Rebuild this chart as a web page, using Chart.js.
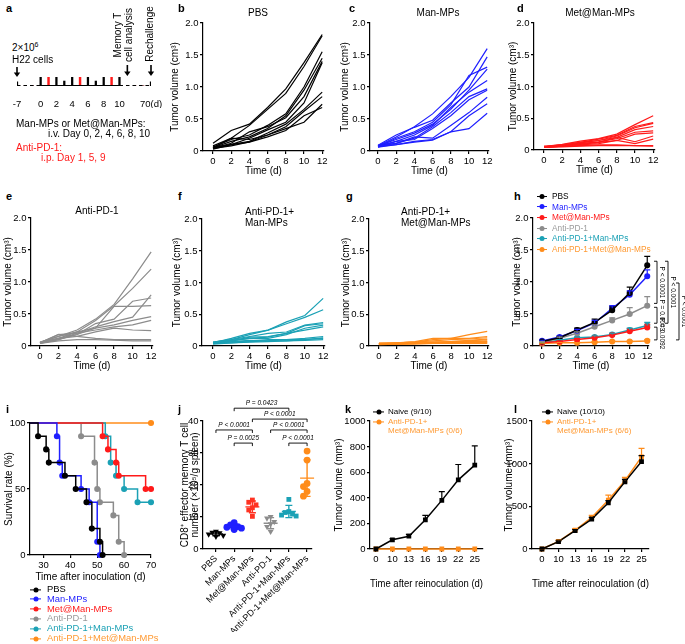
<!DOCTYPE html>
<html><head><meta charset="utf-8">
<script src="https://cdn.jsdelivr.net/npm/chart.js@4.4.1/dist/chart.umd.min.js"></script>
<style>
body{margin:0;background:#fff;}
#fig{position:relative;width:685px;height:644px;overflow:hidden;font-family:"Liberation Sans",Arial,Helvetica,sans-serif;color:#000;background:#fff;}
canvas{position:absolute;}
.t{position:absolute;white-space:nowrap;line-height:1.05;z-index:5;}
.leg{position:absolute;white-space:nowrap;line-height:1;z-index:5;}
.mk{display:inline-block;position:relative;vertical-align:middle;}
</style></head><body><div id="fig"></div>
<script>
// ---------------- DATA ----------------
const days = [0, 2, 4, 6, 8, 10, 12];
const dayTicks = [0, 2, 4, 6, 8, 10, 12];
const volTicks = [0, 0.5, 1.0, 1.5, 2.0];
const volLabels = ['0', '0.5', '1.0', '1.5', '2.0'];

const pbsMice = [
  [0.12,0.32,0.42,0.68,0.97,1.38,1.82],[0.08,0.20,0.40,0.65,0.90,1.32,1.80],
  [0.06,0.18,0.25,0.40,0.58,1.00,1.55],[0.05,0.15,0.22,0.35,0.55,0.95,1.45],
  [0.04,0.12,0.30,0.38,0.52,0.85,1.40],[0.05,0.10,0.20,0.33,0.45,0.75,1.38],
  [0.06,0.10,0.15,0.28,0.42,0.65,0.92],[0.04,0.08,0.14,0.25,0.38,0.62,0.85],
  [0.05,0.20,0.18,0.25,0.35,0.45,0.73],[0.03,0.10,0.14,0.22,0.32,0.55,0.68]];
const manMice = [
  [0.08,0.22,0.38,0.58,0.85,1.15,1.60],[0.09,0.25,0.37,0.48,0.75,1.00,1.47],
  [0.07,0.20,0.30,0.45,0.72,1.18,1.31],[0.08,0.18,0.28,0.42,0.65,0.95,1.28],
  [0.06,0.15,0.25,0.40,0.68,0.92,1.10],[0.07,0.12,0.20,0.38,0.60,0.85,0.97],
  [0.08,0.15,0.18,0.35,0.55,0.80,0.95],[0.09,0.12,0.22,0.20,0.40,0.60,0.84],
  [0.06,0.10,0.15,0.18,0.30,0.55,0.74],[0.07,0.10,0.14,0.17,0.30,0.35,0.59]];
const metMice = [
  [0.05,0.09,0.14,0.18,0.25,0.40,0.54],[0.05,0.08,0.12,0.17,0.23,0.37,0.43],
  [0.06,0.08,0.12,0.15,0.22,0.35,0.42],[0.04,0.07,0.11,0.15,0.20,0.32,0.37],
  [0.05,0.07,0.10,0.13,0.18,0.28,0.30],[0.04,0.06,0.09,0.12,0.15,0.25,0.27],
  [0.05,0.07,0.10,0.12,0.20,0.13,0.22],[0.04,0.06,0.08,0.10,0.15,0.10,0.17],
  [0.05,0.06,0.07,0.08,0.08,0.07,0.07],[0.04,0.05,0.06,0.07,0.07,0.07,0.06]];
const pd1Mice = [
  [0.05,0.15,0.25,0.42,0.65,1.05,1.47],[0.06,0.12,0.22,0.40,0.63,0.90,1.20],
  [0.05,0.18,0.20,0.30,0.38,0.45,0.80],[0.04,0.10,0.18,0.28,0.62,0.62,0.63],
  [0.05,0.12,0.18,0.35,0.42,0.70,0.75],[0.06,0.15,0.22,0.28,0.33,0.40,0.46],
  [0.05,0.10,0.20,0.25,0.30,0.33,0.40],[0.04,0.12,0.15,0.22,0.28,0.25,0.24],
  [0.05,0.18,0.15,0.12,0.10,0.10,0.10],[0.04,0.08,0.10,0.10,0.09,0.08,0.08]];
const pd1ManMice = [
  [0.06,0.10,0.18,0.25,0.38,0.48,0.75],[0.05,0.12,0.20,0.25,0.35,0.45,0.57],
  [0.06,0.10,0.15,0.20,0.22,0.33,0.37],[0.05,0.08,0.14,0.15,0.20,0.32,0.35],
  [0.04,0.09,0.12,0.12,0.18,0.28,0.33],[0.05,0.08,0.12,0.14,0.20,0.25,0.30],
  [0.04,0.06,0.08,0.10,0.10,0.12,0.15],[0.05,0.07,0.09,0.08,0.10,0.10,0.13],
  [0.04,0.05,0.07,0.08,0.08,0.10,0.12],[0.03,0.05,0.06,0.07,0.08,0.09,0.10]];
const pd1MetMice = [
  [0.04,0.05,0.07,0.12,0.12,0.18,0.23],[0.04,0.05,0.06,0.10,0.12,0.12,0.15],
  [0.03,0.05,0.06,0.08,0.10,0.11,0.13],[0.04,0.04,0.05,0.06,0.07,0.09,0.11],
  [0.03,0.04,0.05,0.06,0.07,0.08,0.10],[0.03,0.04,0.04,0.05,0.06,0.07,0.08],
  [0.04,0.04,0.05,0.05,0.06,0.06,0.07],[0.03,0.03,0.04,0.05,0.05,0.06,0.06],
  [0.03,0.03,0.04,0.04,0.05,0.05,0.05],[0.02,0.03,0.03,0.04,0.04,0.04,0.04]];

// panel h : mean and SEM (upper)
const groupNames = ['PBS','Man-MPs','Met@Man-MPs','Anti-PD-1','Anti-PD-1+Man-MPs','Anti-PD-1+Met@Man-MPs'];
const hMean = [
  [0.07,0.13,0.25,0.37,0.56,0.83,1.26],
  [0.08,0.14,0.24,0.36,0.59,0.80,1.09],
  [0.05,0.07,0.10,0.13,0.17,0.23,0.29],
  [0.06,0.12,0.20,0.30,0.40,0.50,0.63],
  [0.05,0.09,0.13,0.14,0.18,0.25,0.32],
  [0.04,0.05,0.05,0.06,0.07,0.07,0.08]];
const hErr = [
  [0.01,0.02,0.03,0.05,0.05,0.09,0.14],
  [0.01,0.02,0.02,0.04,0.04,0.06,0.10],
  [0.005,0.01,0.01,0.01,0.02,0.04,0.05],
  [0.01,0.02,0.02,0.03,0.04,0.10,0.14],
  [0.005,0.01,0.01,0.02,0.02,0.03,0.05],
  [0.005,0.005,0.005,0.01,0.01,0.01,0.02]];
const hBrackets = [
  {col:0, a:1.34, b:0.65, t:'P < 0.0001'},
  {col:0, a:0.62, b:0.34, t:'P = 0.0003'},
  {col:0, a:0.31, b:0.08, t:'P = 0.0092'},
  {col:1, a:1.34, b:0.34, t:'P < 0.0001'},
  {col:2, a:1.00, b:0.08, t:'P < 0.0001'}];

// panel i : Kaplan-Meier steps [day, % surviving]
const kmPBS   = [[25,100],[28,90],[31,80],[32,70],[38,60],[42,50],[46,40],[48,20],[51,10],[52,0]];
const kmMan   = [[25,100],[35,90],[36,70],[37,60],[44,50],[47,40],[50,10],[51,0]];
const kmMet   = [[25,100],[52,90],[54,80],[57,70],[58,60],[68,50],[70,50]];
const kmPD1   = [[25,100],[44,90],[49,70],[50,50],[51,40],[56,30],[58,10],[60,0]];
const kmPD1Man= [[25,100],[53,90],[55,70],[57,60],[60,50],[65,40],[70,40]];
const kmPD1Met= [[25,100],[70,100]];
const kmTicksX = [30,40,50,60,70];
const kmTicksY = [0,50,100];

// panel j : CD8+ effector memory T cells (x10^5 / g spleen)
const jPBS    = [5.5,5.2,5.0,4.6,4.2,3.9];
const jMan    = [8.2,7.5,7.0,6.8,6.5,6.1];
const jMet    = [15.3,14.6,13.8,12.9,12.2,10.2];
const jPD1    = [10.1,9.6,8.5,7.8,7.0,5.4];
const jPD1Man = [15.5,11.7,11.4,10.9,10.6,10.3];
const jPD1Met = [30.6,27.8,20.5,19.5,18.0,16.5];
const jTicks = [0,10,20,30,40];
const jBrackets = [
  {a:2,b:5,y:44.0,t:'P = 0.0423'},
  {a:3,b:6,y:40.6,t:'P < 0.0001'},
  {a:1,b:3,y:37.2,t:'P < 0.0001'},
  {a:4,b:6,y:37.2,t:'P < 0.0001'},
  {a:2,b:3,y:33.1,t:'P = 0.0025'},
  {a:5,b:6,y:33.1,t:'P < 0.0001'}];

// panel k, l : rechallenge
const reDays = ['0','10','13','16','19','22','25'];
const kNaive = [0,72,100,228,380,540,655];
const kNaiveErr = [0,8,15,35,68,120,150];
const kTreated = [0,0,0,0,0,0,0];
const kTicks = [0,200,400,600,800,1000];
const lNaive = [0,86,214,350,541,787,1025];
const lNaiveErr = [4,10,14,20,25,30,70];
const lTreated = [0,90,220,370,573,800,1080];
const lTreatedErr = [4,15,20,25,58,40,100];
const lTicks = [0,500,1000,1500];

// panel a : timeline
const tlLabels = ['-7','','','0','','2','','4','','6','','8','','10','','','','70(d)'];
const tlBlack  = [0.45,0,0,1,0,1,0.55,1,0,1,0.55,1,0,1,0,0,0,0.45];
const tlRed    = [0,0,0,0,1,0,0,0,1,0,0,0,1,0,0,0,0,0];
const tlSolid  = [null,null,null,0,0,0,0,0,0,0,0,0,0,0,null,null,null,null];
const tlDash   = [0,0,0,0,null,null,null,null,null,null,null,null,null,0,0,0,0,0];

// ---------------- STYLE / HELPERS ----------------
const FF = '"Liberation Sans", Arial, Helvetica, sans-serif';
const C = {black:'#000000', blue:'#1f1fff', red:'#ff1a1a', gray:'#8c8c8c', cyan:'#1ba1b5', orange:'#ff8c1a'};
const fig = document.getElementById('fig');

function txt(html, x, y, o = {}) {
  const d = document.createElement('div');
  d.className = 't';
  d.innerHTML = html;
  d.style.fontSize = (o.size || 10) + 'px';
  d.style.color = o.color || '#000';
  if (o.bold) d.style.fontWeight = 'bold';
  const tx = o.align === 'center' ? '-50%' : (o.align === 'right' ? '-100%' : '0');
  d.style.left = x + 'px'; d.style.top = y + 'px';
  d.style.transform = `translate(${tx},-50%)` + (o.rot ? ` rotate(${o.rot}deg)` : '');
  fig.appendChild(d);
  return d;
}
function legend(items, x, y, step, o) {
  items.forEach((it, i) => {
    const d = document.createElement('div');
    d.className = 'leg';
    d.style.left = x + 'px'; d.style.top = (y + i * step) + 'px';
    d.style.transform = 'translate(0,-50%)';
    d.style.fontSize = o.size + 'px';
    d.style.color = it.tc || it.c;
    d.innerHTML = `<span class="mk" style="width:${o.lw}px;height:${o.size}px;margin-right:${o.gap}px">` +
      `<span style="position:absolute;left:0;right:0;top:50%;border-top:1.5px solid ${it.c};transform:translateY(-50%)"></span>` +
      `<span style="position:absolute;left:50%;top:50%;width:5px;height:5px;border-radius:50%;background:${it.c};transform:translate(-50%,-50%)"></span></span>` + it.t;
    fig.appendChild(d);
  });
}

// axis config; y-axis tick labels are placed as text elements at the scale's own tick pixels
function axis(o) {
  const labels = o.labels;
  const a = {
    type: 'linear', min: o.min, max: o.max, display: true,
    border: {display: true, color: '#000', width: 1.2},
    grid: {display: true, drawOnChartArea: false, drawTicks: true, tickLength: 3, color: '#000', lineWidth: 1.2},
    ticks: {display: !o.manual, color: '#000', font: {family: FF, size: o.tickSize || 9.5}, padding: o.tickPad ?? 1.5, autoSkip: false,
      maxRotation: o.rot || 0, minRotation: o.rot || 0,
      callback: function (v, i) { return labels ? labels[i] : String(v); }},
    afterBuildTicks: s => { s.ticks = o.ticks.map(v => ({value: v})); },
    title: {display: false}
  };
  if (o.manual) a._manual = {labels: labels || o.ticks.map(String), size: o.tickSize || 9.5, pad: o.tickPad ?? 1.5};
  if (o.title) a.title = {display: true, text: o.title, color: '#000',
    font: {family: FF, size: o.titleSize || 10, lineHeight: o.titleLH || 1.2}, padding: {top: 0, bottom: 0}};
  return a;
}

function makeChart(P, cfg) {
  const box = P.box, area = P.area;
  const w = box.r - box.l, h = box.b - box.t;
  const c = document.createElement('canvas');
  c.width = w; c.height = h;
  c.style.left = box.l + 'px'; c.style.top = box.t + 'px';
  c.style.width = w + 'px'; c.style.height = h + 'px';
  fig.appendChild(c);
  const o = cfg.options;
  o.responsive = false; o.animation = false; o.devicePixelRatio = 1;
  o.layout = {padding: {top: area.y0 - box.t, right: box.r - area.x1, left: 0, bottom: 0}};
  o.scales.x.afterFit = s => { s.height = box.b - area.y1; };
  o.scales.y.afterFit = s => { s.width = area.x0 - box.l; };
  if (o.scales.y.title && o.scales.y.title.display) {
    const lh = o.scales.y.title.font.size * o.scales.y.title.font.lineHeight;
    o.scales.y.title.padding = {top: P.yTitleX - box.l - lh / 2, bottom: 0};
  }
  if (o.scales.x.title && o.scales.x.title.display) {
    const lh = o.scales.x.title.font.size * o.scales.x.title.font.lineHeight;
    o.scales.x.title.padding = {top: 0, bottom: box.b - P.xTitleY - lh / 2};
  }
  o.plugins = Object.assign({legend: {display: false}, tooltip: {enabled: false}, title: {display: false}}, o.plugins || {});
  const man = o.scales.y._manual;
  delete o.scales.y._manual;
  cfg.plugins = cfg.plugins || [];
  if (man) {
    cfg.plugins.push({
      id: 'ylabels',
      afterDraw(chart) {
        if (chart.$ylab) return;
        chart.$ylab = true;
        const s = chart.scales.y;
        const x = box.l + s.right - s.options.grid.tickLength - man.pad;
        s.ticks.forEach((t, i) => txt(man.labels[i], x, box.t + s.getPixelForValue(t.value), {size: man.size, align: 'right'}));
      }
    });
  }
  return new Chart(c, cfg);
}

function spaghetti(P, mice, color) {
  return makeChart(P, {
    type: 'line',
    data: {datasets: mice.map(m => ({
      data: days.map((d, i) => ({x: d, y: m[i]})),
      borderColor: color, borderWidth: 1.2, pointRadius: 0, tension: 0, fill: false}))},
    options: {
      clip: false,
      scales: {
        x: axis({min: P.xmin, max: P.xmax, ticks: dayTicks, title: 'Time (d)'}),
        y: axis({min: 0, max: 2, ticks: volTicks, labels: volLabels, title: 'Tumor volume (cm³)', manual: true})
      }
    }
  });
}

// error bar plugin (upper bars)
const errPlugin = {
  id: 'errbars',
  afterDatasetsDraw(chart) {
    const ctx = chart.ctx, ys = chart.scales.y;
    chart.data.datasets.forEach((ds, di) => {
      if (!ds.errUp) return;
      const meta = chart.getDatasetMeta(di);
      ctx.save();
      ctx.strokeStyle = ds.borderColor; ctx.lineWidth = 1.2;
      meta.data.forEach((pt, i) => {
        const v = ds.data[i].y, e = ds.errUp[i];
        if (!e) return;
        const yt = ys.getPixelForValue(v + e);
        ctx.beginPath();
        ctx.moveTo(pt.x, pt.y); ctx.lineTo(pt.x, yt);
        ctx.moveTo(pt.x - 3, yt); ctx.lineTo(pt.x + 3, yt);
        ctx.stroke();
      });
      ctx.restore();
    });
  }
};

// ---------------- PANEL LETTERS & TITLES ----------------
[['a',6,9],['b',178,9],['c',349,9],['d',517,9],['e',6,197],['f',178,197],['g',346,197],['h',514,197],
 ['i',6,410],['j',178,410],['k',345,410],['l',514,410]].forEach(([s,x,y]) => txt(s, x, y, {size: 11, bold: true}));

txt('PBS', 258, 13, {align: 'center'});
txt('Man-MPs', 438, 13, {align: 'center'});
txt('Met@Man-MPs', 600, 13, {align: 'center'});
txt('Anti-PD-1', 97, 211, {align: 'center'});
txt('Anti-PD-1+<br>Man-MPs', 245, 217);
txt('Anti-PD-1+<br>Met@Man-MPs', 401, 217);

// ---------------- PANEL a ----------------
txt('2×10<sup style="font-size:7px">6</sup>', 12, 47, {size: 10});
txt('H22 cells', 12, 60, {size: 10});
txt('Memory T', 118, 35, {size: 10, align: 'center', rot: -90});
txt('cell analysis', 129, 35, {size: 10, align: 'center', rot: -90});
txt('Rechallenge', 150, 34, {size: 10, align: 'center', rot: -90});
txt('Man-MPs or Met@Man-MPs:', 16, 124, {size: 10});
txt('i.v. Day 0, 2, 4, 6, 8, 10', 48, 134, {size: 10});
txt('Anti-PD-1:', 16, 148, {size: 10, color: C.red});
txt('i.p. Day 1, 5, 9', 41, 158, {size: 10, color: C.red});

(function () {
  const box = {l: 0, t: 60, r: 170, b: 108};
  const area = {x0: 17, x1: 151, y0: 77, y1: 86};
  const c = document.createElement('canvas');
  c.width = box.r - box.l; c.height = box.b - box.t;
  c.style.left = box.l + 'px'; c.style.top = box.t + 'px';
  c.style.width = (box.r - box.l) + 'px'; c.style.height = (box.b - box.t) + 'px';
  fig.appendChild(c);
  const arrowPlugin = {
    id: 'arrows',
    afterDraw(chart) {
      const ctx = chart.ctx, xs = chart.scales.x;
      [[0, 7, 17], [14, 5, 16], [17, 5, 16]].forEach(([idx, y0, y1]) => {
        const x = xs.getPixelForValue(idx);
        ctx.save(); ctx.strokeStyle = '#000'; ctx.fillStyle = '#000'; ctx.lineWidth = 1.6;
        ctx.beginPath(); ctx.moveTo(x, y0); ctx.lineTo(x, y1 - 3); ctx.stroke();
        ctx.beginPath(); ctx.moveTo(x - 3.2, y1 - 4.5); ctx.lineTo(x + 3.2, y1 - 4.5); ctx.lineTo(x, y1); ctx.closePath(); ctx.fill();
        ctx.restore();
      });
    }
  };
  new Chart(c, {
    type: 'bar',
    data: {labels: tlLabels, datasets: [
      {type: 'line', data: tlSolid, borderColor: '#000', borderWidth: 2.2, pointRadius: 0, spanGaps: false, order: 1},
      {type: 'line', data: tlDash, borderColor: '#000', borderWidth: 2.2, borderDash: [3.5, 3], pointRadius: 0, spanGaps: false, order: 2},
      {data: tlBlack, backgroundColor: '#000', barThickness: 1.6, grouped: false, order: 3},
      {data: tlRed, backgroundColor: C.red, barThickness: 1.8, grouped: false, order: 3}
    ]},
    options: {
      responsive: false, animation: false, devicePixelRatio: 1,
      layout: {padding: {left: area.x0 - box.l, right: box.r - area.x1, top: area.y0 - box.t, bottom: 0}},
      plugins: {legend: {display: false}, tooltip: {enabled: false}},
      scales: {
        x: {type: 'category', offset: false, border: {display: false}, grid: {display: false},
          ticks: {color: '#000', font: {family: FF, size: 9.5}, padding: 5, autoSkip: false, maxRotation: 0},
          afterFit: s => { s.height = box.b - area.y1; }},
        y: {display: false, min: 0, max: 1}
      }
    },
    plugins: [arrowPlugin]
  });
})();

// ---------------- PANELS b-g ----------------
spaghetti({box:{l:165,t:8,r:333,b:178}, area:{x0:203,x1:324,y0:23,y1:151}, yTitleX:175, xTitleY:171, xmin:-1.1, xmax:12.2}, pbsMice, C.black);
spaghetti({box:{l:336,t:8,r:500,b:178}, area:{x0:370,x1:489,y0:23,y1:151}, yTitleX:345, xTitleY:171, xmin:-0.88, xmax:12.2}, manMice, C.blue);
spaghetti({box:{l:504,t:8,r:670,b:178}, area:{x0:534,x1:655,y0:23,y1:150}, yTitleX:513, xTitleY:170, xmin:-1.1, xmax:12.2}, metMice, C.red);
spaghetti({box:{l:0,t:205,r:165,b:373}, area:{x0:31,x1:153,y0:218,y1:346}, yTitleX:8, xTitleY:366, xmin:-0.97, xmax:12.2}, pd1Mice, C.gray);
spaghetti({box:{l:168,t:205,r:333,b:373}, area:{x0:202,x1:325,y0:219,y1:346}, yTitleX:177, xTitleY:366, xmin:-1.2, xmax:12.2}, pd1ManMice, C.cyan);
spaghetti({box:{l:337,t:205,r:500,b:373}, area:{x0:369,x1:489,y0:219,y1:346}, yTitleX:346, xTitleY:366, xmin:-1.1, xmax:12.2}, pd1MetMice, C.orange);

// ---------------- PANEL h ----------------
(function () {
  const cols = [C.black, C.blue, C.red, C.gray, C.cyan, C.orange];
  const brPlugin = {
    id: 'hbr',
    afterDraw(chart) {
      const ctx = chart.ctx, ys = chart.scales.y, ca = chart.chartArea;
      const colX = [ca.right + 8, ca.right + 19, ca.right + 30];
      ctx.save(); ctx.strokeStyle = '#000'; ctx.fillStyle = '#000'; ctx.lineWidth = 0.9;
      ctx.font = '6.5px ' + FF;
      hBrackets.forEach(br => {
        const x = colX[br.col], y1 = ys.getPixelForValue(br.a) + 1, y2 = ys.getPixelForValue(br.b) - 1;
        ctx.beginPath(); ctx.moveTo(x - 3, y1); ctx.lineTo(x, y1); ctx.lineTo(x, y2); ctx.lineTo(x - 3, y2); ctx.stroke();
        ctx.save(); ctx.translate(x + 4.5, (y1 + y2) / 2); ctx.rotate(Math.PI / 2);
        ctx.textAlign = 'center'; ctx.textBaseline = 'middle'; ctx.fillText(br.t, 0, 0); ctx.restore();
      });
      ctx.restore();
    }
  };
  makeChart({box:{l:508,t:205,r:685,b:373}, area:{x0:533,x1:649,y0:218,y1:346}, yTitleX:517, xTitleY:366}, {
    type: 'line',
    data: {datasets: hMean.map((m, g) => ({
      data: days.map((d, i) => ({x: d, y: m[i]})), errUp: hErr[g],
      borderColor: cols[g], backgroundColor: cols[g], borderWidth: 1.5, pointRadius: 2.3, pointHoverRadius: 0, tension: 0}))},
    options: {
      clip: false,
      scales: {
        x: axis({min: -1.03, max: 12.2, ticks: dayTicks, title: 'Time (d)'}),
        y: axis({min: 0, max: 2, ticks: volTicks, labels: volLabels, title: 'Tumor volume (cm³)', manual: true})
      }
    },
    plugins: [errPlugin, brPlugin]
  });
  legend(groupNames.map((n, g) => ({t: n, c: cols[g], tc: g === 3 ? '#9a9a9a' : (g === 5 ? '#ff9a33' : cols[g])})),
    537, 196, 10.6, {size: 8.3, lw: 10, gap: 5});
})();

// ---------------- PANEL i ----------------
(function () {
  const sets = [kmPBS, kmMan, kmMet, kmPD1, kmPD1Man, kmPD1Met];
  const cols = [C.black, C.blue, C.red, C.gray, C.cyan, C.orange];
  makeChart({box:{l:0,t:410,r:165,b:585}, area:{x0:30,x1:151,y0:423,y1:555}, yTitleX:9, xTitleY:577}, {
    type: 'line',
    data: {datasets: sets.map((s, g) => ({
      data: s.map(p => ({x: p[0], y: p[1]})),
      stepped: true, borderColor: cols[g], backgroundColor: cols[g], borderWidth: 1.5,
      pointRadius: s.map((p, i) => i === 0 ? 0 : 2.3), pointHoverRadius: 0}))},
    options: {
      clip: false,
      scales: {
        x: axis({min: 25, max: 70, ticks: kmTicksX, title: 'Time after inoculation (d)'}),
        y: axis({min: 0, max: 100, ticks: kmTicksY, title: 'Survival rate (%)', manual: true})
      }
    }
  });
  legend(groupNames.map((n, g) => ({t: n, c: cols[g], tc: g === 3 ? '#9a9a9a' : (g === 5 ? '#ff9a33' : cols[g])})),
    30, 589, 9.8, {size: 9.4, lw: 11, gap: 6});
})();

// ---------------- PANEL j ----------------
(function () {
  const groups = [jPBS, jMan, jMet, jPD1, jPD1Man, jPD1Met];
  const cols = [C.black, C.blue, '#ff3322', C.gray, C.cyan, C.orange];
  const styles = ['triangle', 'circle', 'rect', 'triangle', 'rect', 'circle'];
  const rots = [180, 0, 0, 180, 0, 0];
  function swarm(vals) {
    const placed = [];
    return vals.map(v => {
      const cands = [0, -0.2, 0.2, -0.4, 0.4];
      for (const dx of cands) {
        if (!placed.some(p => Math.abs(p.dx - dx) < 0.19 && Math.abs(p.v - v) * 3.2 < 6)) { placed.push({v, dx}); return dx; }
      }
      placed.push({v, dx: 0}); return 0;
    });
  }
  const stat = vals => {
    const m = vals.reduce((a, b) => a + b, 0) / vals.length;
    const sd = Math.sqrt(vals.reduce((a, b) => a + (b - m) ** 2, 0) / (vals.length - 1));
    return {m, sd};
  };
  const meanPlugin = {
    id: 'meansd',
    afterDatasetsDraw(chart) {
      const ctx = chart.ctx, xs = chart.scales.x, ys = chart.scales.y;
      groups.forEach((vals, g) => {
        const {m, sd} = stat(vals);
        const x = xs.getPixelForValue(g + 1);
        const ym = ys.getPixelForValue(m), yt = ys.getPixelForValue(m + sd), yb = ys.getPixelForValue(m - sd);
        ctx.save(); ctx.strokeStyle = cols[g]; ctx.lineWidth = 1.4;
        ctx.beginPath();
        ctx.moveTo(x - 7, ym); ctx.lineTo(x + 7, ym);
        ctx.moveTo(x, yt); ctx.lineTo(x, yb);
        ctx.moveTo(x - 3.5, yt); ctx.lineTo(x + 3.5, yt);
        ctx.moveTo(x - 3.5, yb); ctx.lineTo(x + 3.5, yb);
        ctx.stroke(); ctx.restore();
      });
    },
    afterDraw(chart) {
      const ctx = chart.ctx, xs = chart.scales.x, ys = chart.scales.y;
      ctx.save(); ctx.strokeStyle = '#000'; ctx.fillStyle = '#000'; ctx.lineWidth = 0.9;
      ctx.font = 'italic 6.5px ' + FF; ctx.textAlign = 'center'; ctx.textBaseline = 'bottom';
      jBrackets.forEach(br => {
        const x1 = xs.getPixelForValue(br.a), x2 = xs.getPixelForValue(br.b), y = ys.getPixelForValue(br.y);
        ctx.beginPath(); ctx.moveTo(x1, y + 3); ctx.lineTo(x1, y); ctx.lineTo(x2, y); ctx.lineTo(x2, y + 3); ctx.stroke();
        ctx.fillText(br.t, (x1 + x2) / 2, y - 1.5);
      });
      ctx.restore();
    }
  };
  makeChart({box:{l:175,t:395,r:330,b:632}, area:{x0:203,x1:312,y0:421,y1:549}, yTitleX:185}, {
    type: 'scatter',
    data: {datasets: groups.map((vals, g) => {
      const off = swarm(vals);
      return {data: vals.map((v, i) => ({x: g + 1 + off[i], y: v})),
        pointStyle: styles[g], rotation: rots[g], pointRadius: 3.4, pointHoverRadius: 0,
        backgroundColor: cols[g], borderColor: cols[g], borderWidth: 0};
    })},
    options: {
      clip: false,
      scales: {
        x: axis({min: 0.29, max: 6.27, ticks: [1,2,3,4,5,6], labels: groupNames, rot: 45, tickSize: 9}),
        y: axis({min: 0, max: 40, ticks: jTicks, title: ['CD8⁺ effector memory T cell', 'number (×10⁵/g spleen)'], titleLH: 1.0, manual: true})
      }
    },
    plugins: [meanPlugin]
  });
})();

// ---------------- PANELS k, l ----------------
function rechallenge(P, naive, naiveErr, treated, treatedErr, yTicks, ymax) {
  makeChart(P, {
    type: 'line',
    data: {datasets: [
      {data: treated.map((v, i) => ({x: i, y: v})), errUp: treatedErr, borderColor: C.orange, backgroundColor: C.orange,
        borderWidth: 1.5, pointStyle: 'rect', pointRadius: 2.3, pointHoverRadius: 0, tension: 0, order: 1},
      {data: naive.map((v, i) => ({x: i, y: v})), errUp: naiveErr, borderColor: C.black, backgroundColor: C.black,
        borderWidth: 1.5, pointStyle: 'rect', pointRadius: 2.3, pointHoverRadius: 0, tension: 0, order: 0}
    ]},
    options: {
      clip: false,
      scales: {
        x: axis({min: P.xmin, max: P.xmax, ticks: [0,1,2,3,4,5,6], labels: reDays, title: 'Time after reinoculation (d)'}),
        y: axis({min: 0, max: ymax, ticks: yTicks, title: 'Tumor volume (mm³)', manual: true})
      }
    },
    plugins: [errPlugin]
  });
}
rechallenge({box:{l:333,t:400,r:500,b:592}, area:{x0:370,x1:483,y0:421,y1:549}, yTitleX:339, xTitleY:584, xmin:-0.36, xmax:6.5},
  kNaive, kNaiveErr, kTreated, null, kTicks, 1000);
rechallenge({box:{l:503,t:400,r:685,b:592}, area:{x0:532,x1:649,y0:421,y1:549}, yTitleX:509, xTitleY:584, xmin:-0.6, xmax:6.45},
  lNaive, lNaiveErr, lTreated, lTreatedErr, lTicks, 1500);

legend([{t: 'Naive (9/10)', c: C.black}, {t: 'Anti-PD-1+', c: C.orange, tc: '#ff9a33'}], 373, 412, 10, {size: 8, lw: 11, gap: 4});
txt('Met@Man-MPs (0/6)', 388, 431, {size: 8, color: '#ff9a33'});
legend([{t: 'Naive (10/10)', c: C.black}, {t: 'Anti-PD-1+', c: C.orange, tc: '#ff9a33'}], 542, 412, 10, {size: 8, lw: 11, gap: 4});
txt('Met@Man-MPs (6/6)', 557, 431, {size: 8, color: '#ff9a33'});
</script>
</body></html>
